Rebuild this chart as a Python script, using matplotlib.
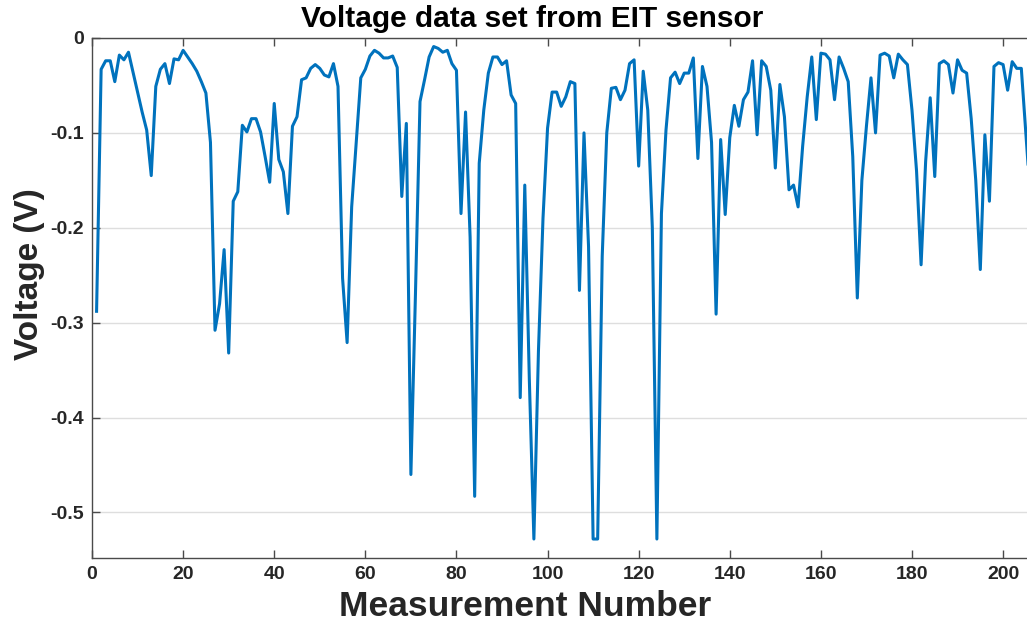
import numpy as np
import matplotlib.pyplot as plt

plt.rcParams['font.family'] = ['Liberation Sans', 'DejaVu Sans']
plt.rcParams['axes.unicode_minus'] = False

# Voltage readings (V), measurement 1..206
voltage = [
    -0.288, -0.033, -0.024, -0.024, -0.046, -0.018, -0.023, -0.015, -0.036, -0.057,
    -0.078, -0.097, -0.145, -0.051, -0.033, -0.027, -0.048, -0.022, -0.023, -0.013,
    -0.020, -0.027, -0.035, -0.046, -0.058, -0.110, -0.308, -0.280, -0.223, -0.332,
    -0.172, -0.162, -0.092, -0.099, -0.085, -0.085, -0.099, -0.125, -0.152, -0.069,
    -0.128, -0.141, -0.185, -0.093, -0.083, -0.044, -0.042, -0.032, -0.028, -0.032,
    -0.039, -0.041, -0.027, -0.051, -0.253, -0.321, -0.178, -0.110, -0.042, -0.033,
    -0.019, -0.013, -0.016, -0.021, -0.021, -0.019, -0.031, -0.167, -0.090, -0.460,
    -0.270, -0.067, -0.044, -0.020, -0.009, -0.011, -0.015, -0.013, -0.027, -0.034,
    -0.185, -0.078, -0.210, -0.483, -0.132, -0.076, -0.037, -0.020, -0.020, -0.028,
    -0.024, -0.060, -0.069, -0.379, -0.155, -0.360, -0.528, -0.330, -0.190, -0.095,
    -0.057, -0.057, -0.072, -0.062, -0.046, -0.048, -0.266, -0.100, -0.220, -0.528,
    -0.528, -0.230, -0.100, -0.053, -0.052, -0.065, -0.055, -0.027, -0.023, -0.135,
    -0.035, -0.076, -0.200, -0.528, -0.185, -0.097, -0.042, -0.036, -0.048, -0.037,
    -0.037, -0.021, -0.127, -0.030, -0.051, -0.110, -0.291, -0.107, -0.186, -0.105,
    -0.071, -0.093, -0.065, -0.057, -0.024, -0.102, -0.024, -0.030, -0.055, -0.137,
    -0.049, -0.083, -0.160, -0.155, -0.178, -0.114, -0.062, -0.020, -0.086, -0.016,
    -0.017, -0.023, -0.065, -0.020, -0.032, -0.046, -0.125, -0.274, -0.150, -0.093,
    -0.042, -0.100, -0.018, -0.016, -0.019, -0.042, -0.017, -0.023, -0.028, -0.076,
    -0.140, -0.239, -0.130, -0.063, -0.146, -0.027, -0.024, -0.028, -0.058, -0.023,
    -0.034, -0.037, -0.085, -0.150, -0.244, -0.102, -0.172, -0.030, -0.026, -0.028,
    -0.055, -0.025, -0.032, -0.032, -0.100, -0.170,
]
measurement = np.arange(1, len(voltage) + 1)

x_ticks = [0, 20, 40, 60, 80, 100, 120, 140, 160, 180, 200]
y_ticks = [0, -0.1, -0.2, -0.3, -0.4, -0.5]
y_labels = ['0', '-0.1', '-0.2', '-0.3', '-0.4', '-0.5']

fig = plt.figure(figsize=(10.27, 6.25), dpi=100)
# axes runs a little past the right edge, like the cropped original
ax = fig.add_axes([0.0896, 0.1072, 0.9124, 0.832])

ax.plot(measurement, voltage, color='#0072BD', linewidth=2.2)

ax.set_xlim(0, 205.7)
ax.set_ylim(-0.548, 0)
ax.set_xticks(x_ticks)
ax.set_yticks(y_ticks)
ax.set_yticklabels(y_labels)

ax.grid(axis='y', color='#dedede', linewidth=1)
ax.set_axisbelow(True)
for s in ['left', 'bottom', 'top', 'right']:
    ax.spines[s].set_color('#4a4a4a')
    ax.spines[s].set_linewidth(1)

ax.tick_params(direction='in', length=6, width=1, color='#4a4a4a',
               top=True, right=False, labelsize=14, labelcolor='#262626', pad=6)
for lab in ax.get_xticklabels() + ax.get_yticklabels():
    lab.set_fontweight('bold')

ax.set_title('Voltage data set from EIT sensor', fontsize=21.5, fontweight='bold',
             x=0.47, pad=8)
ax.set_xlabel('Measurement Number', fontsize=25.5, fontweight='bold', color='#262626')
ax.xaxis.set_label_coords(0.462, -0.062)
ax.set_ylabel('Voltage (V)', fontsize=24, fontweight='bold', color='#262626')
ax.yaxis.set_label_coords(-0.05, 0.546)

fig.savefig('out.png', dpi=100)
